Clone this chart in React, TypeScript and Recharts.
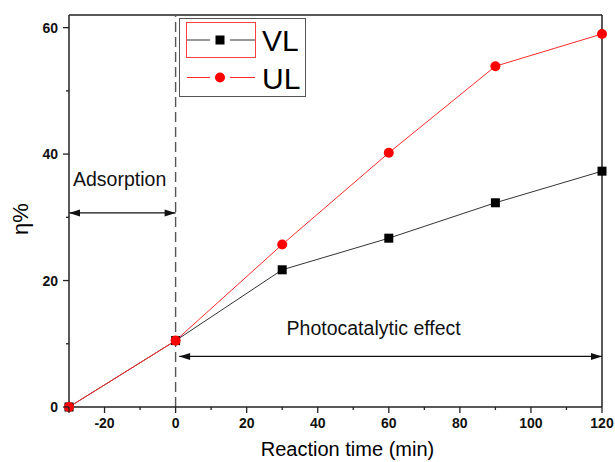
import React from "react";
import { LineChart, Line, XAxis, YAxis, ReferenceLine } from "recharts";

// ---- data ----
const times = [-30, 0, 30, 60, 90, 120];
const vlValues = [0, 10.5, 21.7, 26.7, 32.3, 37.3];
const ulValues = [0, 10.5, 25.7, 40.2, 53.9, 59.0];
const seriesNames = ["VL", "UL"];
const seriesColors = ["#000000", "#ff0000"];
const lineColors = ["#333333", "#ff2a2a"];

const xTicks = [-30, -20, -10, 0, 10, 20, 30, 40, 50, 60, 70, 80, 90, 100, 110, 120];
const xMajor = [-30, -20, 0, 20, 40, 60, 80, 100, 120];
const xLabels = [-20, 0, 20, 40, 60, 80, 100, 120];
const yTicks = [0, 10, 20, 30, 40, 50, 60];
const yLabels = [0, 20, 40, 60];
const xDomain = [-30, 120];
const yDomain = [0, 62];

const adsorptionFrom = -30;
const adsorptionTo = 0;
const adsorptionLevel = 30.7;
const photoFrom = 1;
const photoTo = 120;
const photoLevel = 8.0;

const data = times.map((t, i) => ({ t, VL: vlValues[i], UL: ulValues[i] }));

const FONT = "'Liberation Sans', Arial, Helvetica, sans-serif";
const AXIS = "#222";

const XTick = (p: any) => {
  const v = p.payload.value;
  const major = xMajor.includes(v);
  return (
    <g>
      <line x1={p.x} y1={p.y} x2={p.x} y2={p.y + (major ? 6 : 3)} stroke={AXIS} strokeWidth={1.3} />
      {xLabels.includes(v) && (
        <text x={p.x} y={p.y + 21} textAnchor="middle" fontFamily={FONT} fontWeight="bold" fontSize={14} fill="#111">
          {v}
        </text>
      )}
    </g>
  );
};

const YTick = (p: any) => {
  const v = p.payload.value;
  const major = yLabels.includes(v);
  return (
    <g>
      <line x1={p.x - (major ? 6 : 3)} y1={p.y} x2={p.x} y2={p.y} stroke={AXIS} strokeWidth={1.3} />
      {major && (
        <text x={p.x - 11} y={p.y + 5} textAnchor="end" fontFamily={FONT} fontWeight="bold" fontSize={14} fill="#111">
          {v}
        </text>
      )}
    </g>
  );
};

const arrowShape = (text: string, mode: "left" | "center") => (props: any) => {
  const { x1, y1, x2, y2 } = props;
  const L = 11;
  const W = 3.5;
  const tx = mode === "left" ? x1 + 4 : x1 + (x2 - x1) * 0.46;
  const ty = mode === "left" ? y1 - 27 : y1 - 21;
  return (
    <g>
      <line x1={x1} y1={y1} x2={x2} y2={y2} stroke="#111" strokeWidth={1.2} />
      <polygon points={`${x1},${y1} ${x1 + L},${y1 - W} ${x1 + L},${y1 + W}`} fill="#111" />
      <polygon points={`${x2},${y2} ${x2 - L},${y2 - W} ${x2 - L},${y2 + W}`} fill="#111" />
      <text x={tx} y={ty} textAnchor={mode === "left" ? "start" : "middle"} fontFamily={FONT} fontSize={19.5} fill="#111">
        {text}
      </text>
    </g>
  );
};

const squareDot = (p: any) => (
  <rect key={`s-${p.index}`} x={p.cx - 4.5} y={p.cy - 4.5} width={9} height={9} fill={seriesColors[0]} />
);
const circleDot = (p: any) => (
  <circle key={`c-${p.index}`} cx={p.cx} cy={p.cy} r={5} fill={seriesColors[1]} />
);

const LegendBox = () => (
  <div
    style={{
      position: "absolute",
      left: 179,
      top: 18,
      width: 127,
      height: 79,
      border: "1px solid #555",
      background: "#fff",
      boxSizing: "border-box",
    }}
  >
    <svg width={125} height={77} style={{ display: "block" }}>
      <rect x={6.5} y={3.5} width={69} height={35} fill="none" stroke="#ff4040" strokeWidth={1} />
      {seriesNames.map((name, i) => {
        const cy = 21 + i * 37.5;
        return (
          <g key={name}>
            <line x1={7} y1={cy} x2={75} y2={cy} stroke={lineColors[i]} strokeWidth={1} />
            <rect x={30} y={cy - 6} width={20} height={12} fill="#fff" />
            {i === 0 ? (
              <rect x={35.5} y={cy - 4.5} width={9} height={9} fill={seriesColors[0]} />
            ) : (
              <circle cx={40} cy={cy} r={5} fill={seriesColors[1]} />
            )}
            <text x={82} y={cy + 11} fontFamily={FONT} fontSize={30} fill="#000">
              {name}
            </text>
          </g>
        );
      })}
    </svg>
  </div>
);

export default function App() {
  return (
    <div style={{ position: "absolute", left: 0, top: 0, width: 615, height: 462, background: "#fff" }}>
      <LineChart width={615} height={462} data={data} margin={{ top: 15, right: 13, bottom: 0, left: 0 }}>
        <XAxis
          dataKey="t"
          type="number"
          domain={xDomain}
          ticks={xTicks}
          interval={0}
          tick={<XTick />}
          tickLine={false}
          tickSize={0}
          tickMargin={0}
          height={55}
          axisLine={{ stroke: AXIS, strokeWidth: 1.5 }}
          label={{
            value: "Reaction time (min)",
            position: "insideBottom",
            offset: 6,
            dx: 12,
            style: { fontSize: 20, fill: "#000", fontFamily: FONT },
          }}
        />
        <YAxis
          type="number"
          domain={yDomain}
          ticks={yTicks}
          interval={0}
          tick={<YTick />}
          tickLine={false}
          tickSize={0}
          tickMargin={0}
          width={69}
          axisLine={{ stroke: AXIS, strokeWidth: 1.5 }}
          label={{
            content: (props: any) => {
              const vb = props.viewBox || { y: 15, height: 392 };
              const cx = 28;
              const cy = vb.y + vb.height / 2 + 8;
              return (
                <text
                  x={cx}
                  y={cy}
                  textAnchor="middle"
                  transform={`rotate(-90, ${cx}, ${cy})`}
                  fontFamily={FONT}
                  fontSize={22}
                  fill="#000"
                >
                  η%
                </text>
              );
            },
          }}
        />
        <ReferenceLine y={yDomain[1]} stroke={AXIS} strokeWidth={1.5} />
        <ReferenceLine x={xDomain[1]} stroke={AXIS} strokeWidth={1.5} />
        <ReferenceLine x={0} stroke="#555" strokeWidth={1.4} strokeDasharray="10 5" />
        <ReferenceLine
          segment={[
            { x: adsorptionFrom, y: adsorptionLevel },
            { x: adsorptionTo, y: adsorptionLevel },
          ]}
          shape={arrowShape("Adsorption", "left")}
        />
        <ReferenceLine
          segment={[
            { x: photoFrom, y: photoLevel },
            { x: photoTo, y: photoLevel },
          ]}
          shape={arrowShape("Photocatalytic effect", "center")}
        />
        <Line
          dataKey="VL"
          name={seriesNames[0]}
          stroke={lineColors[0]}
          strokeWidth={1}
          dot={squareDot}
          activeDot={false}
          isAnimationActive={false}
        />
        <Line
          dataKey="UL"
          name={seriesNames[1]}
          stroke={lineColors[1]}
          strokeWidth={1}
          dot={circleDot}
          activeDot={false}
          isAnimationActive={false}
        />
      </LineChart>
      <LegendBox />
    </div>
  );
}
